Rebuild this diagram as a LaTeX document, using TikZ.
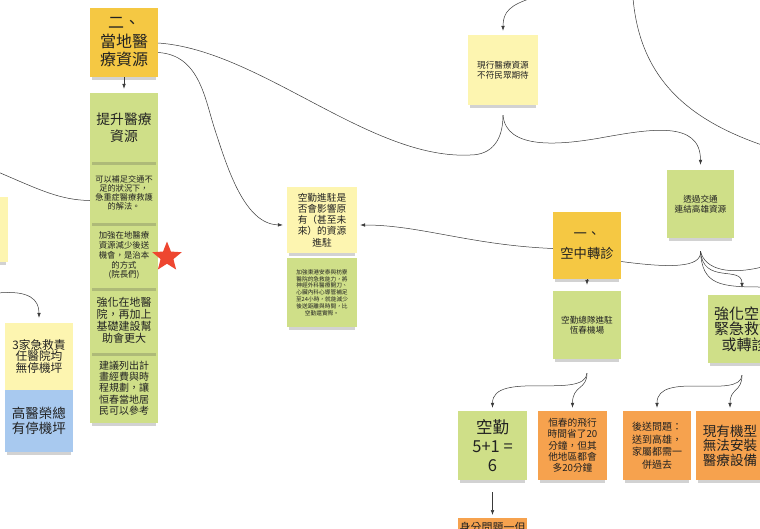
\documentclass[tikz,border=0pt]{standalone}
\usepackage{fontspec}
\setmainfont{Noto Sans CJK TC}
\usetikzlibrary{arrows.meta,shapes.geometric,shadows}

\definecolor{gold}{HTML}{F5C843}
\definecolor{leaf}{HTML}{CFDF88}
\definecolor{paper}{HTML}{FDF5B0}
\definecolor{sky}{HTML}{A8C9EF}
\definecolor{tang}{HTML}{F6A24E}
\definecolor{ink}{HTML}{222222}
\definecolor{wire}{HTML}{3A3A3A}
\definecolor{starred}{HTML}{EE4630}

\newcommand\fs[2]{\fontsize{#1}{#2}\selectfont}

\begin{document}
\begin{tikzpicture}[x=1pt,y=-1pt,
  note/.style={rectangle, inner sep=0pt, minimum width=68pt, minimum height=68pt,
    text=ink, align=center,
    drop shadow={opacity=0.25, fill=black!70, shadow xshift=0pt, shadow yshift=-5pt, shadow scale=0.95}},
  conn/.style={draw=wire, line width=0.5pt},
  arr/.style={conn, -{Latex[length=5pt,width=3.6pt]}},
]
\useasboundingbox (0,0) rectangle (760,528);
\clip (0,0) rectangle (760,528);
\fill[white] (0,0) rectangle (760,528);

% ---- left column
\node[note, fill=paper, minimum height=65pt] (lp) at (-26,229.5) {};
\node[note, fill=gold, minimum height=69pt, font=\fs{16}{18.5}] (n2) at (124,42.5) {二、\\當地醫\\療資源};
\node[note, fill=leaf, minimum height=70pt, font=\fs{10}{11.3}] (g5) at (124,388) {建議列出計\\畫經費與時\\程規劃，讓\\恒春當地居\\民可以參考};
\node[note, fill=leaf, minimum height=65pt, font=\fs{11}{12}] (g4) at (124,320.5) {強化在地醫\\院，再加上\\基礎建設幫\\助會更大};
\node[note, fill=leaf, minimum height=65pt, font=\fs{8.4}{9.8}] (g3) at (124,255.5) {加強在地醫療\\資源減少後送\\機會，是治本\\的方式\\(院長們)};
\node[note, fill=leaf, minimum height=61pt, font=\fs{8.2}{9}] (g2) at (124,192.5) {可以補足交通不\\足的狀況下，\\急重症醫療救護\\的解法。};
\node[note, fill=leaf, minimum height=69pt, font=\fs{13.8}{16.7}] (g1) at (124,127.5) {提升醫療\\資源};
\node[star, star points=5, star point ratio=2.3, fill=starred, minimum size=31pt, inner sep=0pt] (star) at (167,257) {};

\node[note, fill=paper, minimum height=67pt, font=\fs{11.7}{11.9}] (y3) at (39,356.5) {3家急救責\\任醫院均\\無停機坪};
\node[note, fill=sky, minimum height=62pt, font=\fs{13.5}{15}] (b1) at (39,421) {高醫榮總\\有停機坪};

% ---- middle
\node[note, fill=leaf, minimum width=70pt, minimum height=69pt, font=\fs{5.7}{6.8}] (q2) at (322,292.5) {加強東港安泰與枋寮\\醫院的急救能力，將\\神經外科醫療開刀、\\心臟內科心導管補足\\至24小時，就能減少\\後送距離與時間，比\\空勤還實際。};
\node[note, fill=paper, minimum width=70pt, minimum height=66pt, font=\fs{9.7}{11.2}] (q1) at (322,220) {空勤進駐是\\否會影響原\\有（甚至未\\來）的資源\\進駐};

\node[note, fill=paper, minimum width=70pt, minimum height=70pt, font=\fs{8.6}{10}] (cur) at (503,70) {現行醫療資源\\不符民眾期待};
\node[note, fill=leaf, minimum width=67pt, minimum height=68pt, font=\fs{8.6}{10.5}] (tr) at (700.5,204) {透過交通\\連結高雄資源};

\node[note, fill=gold, minimum height=67pt, font=\fs{13.3}{20}] (n1) at (587,245.5) {一、\\空中轉診};
\node[note, fill=leaf, minimum height=68pt, font=\fs{8.6}{10}] (kq) at (587,325) {空勤總隊進駐\\恆春機場};
\node[note, fill=leaf, minimum width=72pt, minimum height=68pt, font=\fs{15}{15.5}] (qz) at (744,329) {強化空中\\緊急救護\\或轉診};

\node[note, fill=leaf, minimum width=69pt, minimum height=69pt, font=\fs{16.5}{19}] (k6) at (492.5,445.5) {空勤\\5+1 =\\6};
\node[note, fill=tang, minimum width=69pt, minimum height=69pt, font=\fs{9.7}{11.2}] (hc) at (572.5,445.5) {恒春的飛行\\時間省了20\\分鐘，但其\\他地區都會\\多20分鐘};
\node[note, fill=tang, minimum width=68pt, minimum height=69pt, font=\fs{10}{12.5}] (hs) at (657,445.5) {後送問題：\\送到高雄，\\家屬都需一\\併過去};
\node[note, fill=tang, minimum width=68pt, minimum height=69pt, font=\fs{13.6}{14.5}] (xy) at (730,445.5) {現有機型\\無法安裝\\醫療設備};
\node[note, fill=tang, minimum width=69pt, minimum height=0pt, inner ysep=4pt, anchor=north, font=\fs{11}{12.5}] (bot) at (492.5,518) {身分問題一但};

% ---- connectors
\draw[arr] (n2.south) -- ([yshift=4pt]g1.north);

\coordinate (cj) at ([yshift=-10pt]cur.south);
\draw[conn] (cj) .. controls (503,140) and (492,155) .. (470,155)
  .. controls (370,160) and (260,50) .. ([yshift=-0.5pt]n2.east);
\draw[arr] (cj) .. controls (506,150) and (560,145) .. (600,138)
  .. controls (650,129) and (700.5,120) .. ([yshift=5pt]tr.north);

\coordinate (ctop) at (532,-2);
\draw[arr] (ctop) .. controls (510,5) and (503,12) .. ([yshift=4pt]cur.north);

\coordinate (bigA) at (633,-2);
\coordinate (bigB) at (762,145);
\draw[conn] (bigA) .. controls (640,80) and (690,120) .. (bigB);

\draw[arr] ([yshift=-10pt]n2.east) .. controls (200,55) and (205,100) .. (215,130)
  .. controls (228,170) and (245,224) .. ([xshift=-4pt,yshift=-5pt]q1.west);
\draw[arr] ([yshift=-3pt]n1.west) .. controls (470,245) and (420,225) .. ([xshift=3pt,yshift=-5pt]q1.east);

\draw[arr] (n1.south) -- ([yshift=6pt]kq.north);

\coordinate (tj) at ([yshift=-13pt]tr.south);
\coordinate (trR1) at (762,267);
\coordinate (trR2) at (762,287);
\draw[conn] (tj) .. controls (702,268) and (670,268) .. ([yshift=-16pt]n1.east);
\draw[arr] (tj) .. controls (703,285) and (742,265) .. ([xshift=-2pt,yshift=7pt]qz.north);
\draw[conn] (tj) .. controls (705,270) and (730,275) .. (trR1);
\draw[conn] (tj) .. controls (702,285) and (720,287) .. (trR2);

\coordinate (kj) at ([yshift=-14pt]kq.south);
\draw[arr] (kj) .. controls (585,400) and (492.5,370) .. ([yshift=3pt]k6.north);
\draw[arr] (kj) .. controls (587,390) and (572.5,385) .. ([yshift=3pt]hc.north);

\coordinate (qj) at ([xshift=-2pt,yshift=-12pt]qz.south);
\draw[arr] (qj) .. controls (740,400) and (657,370) .. ([yshift=3pt]hs.north);
\draw[arr] (qj) .. controls (742,392) and (730,388) .. ([yshift=3pt]xy.north);

\draw[arr] ([yshift=-12pt]k6.south) -- ([yshift=3pt]bot.north);

\coordinate (lA) at (-2,172);
\draw[conn] (lA) .. controls (40,190) and (60,200) .. ([yshift=-8pt]g2.west);
\coordinate (lB) at (-2,293);
\draw[arr] (lB) .. controls (30,290) and (39,300) .. ([yshift=5pt]y3.north);
\end{tikzpicture}
\end{document}
